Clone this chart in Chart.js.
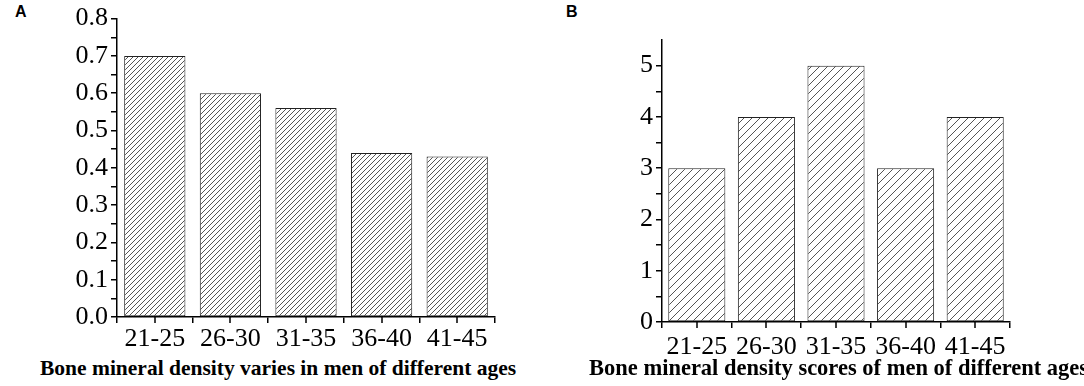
<!DOCTYPE html>
<html>
<head>
<meta charset="utf-8">
<script src="https://cdn.jsdelivr.net/npm/chart.js@4.4.1/dist/chart.umd.min.js"></script>
<style>
  body { margin: 0; background: #fff; width: 1084px; height: 386px; overflow: hidden; position: relative; }
  canvas { position: absolute; top: 0; }
  .panel { position: absolute; top: 3px; font: bold 16px "Liberation Sans", Arial, sans-serif; color: #000; }
  .xtitle { position: absolute; top: 356px; font: bold 21.5px "Liberation Serif", "Times New Roman", serif; color: #000; white-space: nowrap; }
</style>
</head>
<body>
<div class="panel" style="left:15px">A</div>
<div class="panel" style="left:566px">B</div>
<canvas id="chart-a" width="542" height="356" style="left:0"></canvas>
<canvas id="chart-b" width="542" height="356" style="left:542px"></canvas>
<div class="xtitle" style="left:40px">Bone mineral density varies in men of different ages</div>
<div class="xtitle" style="left:589px; top:355px; font-size:22.5px">Bone mineral density scores of men of different ages</div>
<script>
// Data
const ageGroups = ['21-25', '26-30', '31-35', '36-40', '41-45'];
const densityValues = [0.70, 0.60, 0.56, 0.44, 0.43];
const scoreValues = [3, 4, 5, 3, 4];

const serif = '"Liberation Serif", "Times New Roman", serif';

// Diagonal hatch pattern
function makeHatch(size) {
    const c = document.createElement('canvas');
    c.width = size;
    c.height = size;
    const g = c.getContext('2d');
    g.fillStyle = '#fff';
    g.fillRect(0, 0, size, size);
    g.strokeStyle = '#555';
    g.lineWidth = 1;
    g.beginPath();
    g.moveTo(-1, size + 1);
    g.lineTo(size + 1, -1);
    g.moveTo(-1, 1);
    g.lineTo(1, -1);
    g.moveTo(size - 1, size + 1);
    g.lineTo(size + 1, size - 1);
    g.stroke();
    return g.createPattern(c, 'repeat');
}

// Extra ticks at the category centres
const centerTicks = {
    id: 'centerTicks',
    afterDraw(chart) {
        const x = chart.scales.x;
        const ctx = chart.ctx;
        ctx.save();
        ctx.strokeStyle = '#000';
        ctx.lineWidth = 1.5;
        ctx.beginPath();
        x.ticks.forEach((t, i) => {
            const px = Math.round(x.getPixelForValue(i));
            ctx.moveTo(px, x.top);
            ctx.lineTo(px, x.top + 6);
        });
        ctx.stroke();
        ctx.restore();
    }
};

function makeChart(id, values, opts) {
    const ctx = document.getElementById(id).getContext('2d');
    return new Chart(ctx, {
        type: 'bar',
        data: {
            labels: ageGroups,
            datasets: [{
                data: values,
                backgroundColor: makeHatch(opts.hatch),
                borderColor: '#222',
                borderWidth: 1,
                borderSkipped: false,
                categoryPercentage: 1,
                barPercentage: opts.barPct
            }]
        },
        options: {
            responsive: false,
            animation: false,
            events: [],
            layout: { padding: opts.padding },
            plugins: { legend: { display: false }, tooltip: { enabled: false } },
            scales: {
                x: {
                    grid: { drawOnChartArea: false, offset: true, tickLength: 6, color: '#000', lineWidth: 1.5 },
                    border: { color: '#000', width: 1.5 },
                    ticks: { color: '#000', font: { family: serif, size: 26 }, padding: opts.xPad, maxRotation: 0, autoSkip: false },
                    afterFit: s => { s.height = opts.xHeight; }
                },
                y: {
                    min: 0,
                    max: opts.max,
                    grid: {
                        drawOnChartArea: false, tickLength: 6, lineWidth: 1.5,
                        color: c => (opts.hideTop && c.tick && c.tick.value >= opts.max - 1e-9) ? 'rgba(0,0,0,0)' : '#000'
                    },
                    border: { color: '#000', width: 1.5 },
                    ticks: {
                        stepSize: opts.step,
                        autoSkip: false,
                        color: '#000',
                        padding: 3,
                        font: { family: serif, size: 26 },
                        callback: opts.label
                    },
                    afterFit: s => { s.width = opts.yWidth; }
                }
            }
        },
        plugins: [centerTicks]
    });
}

// Panel A
makeChart('chart-a', densityValues, {
    hatch: 5,
    barPct: 0.81,
    max: 0.8,
    step: 0.05,
    padding: { left: 0, top: 13, right: 47, bottom: 0 },
    yWidth: 117,
    xHeight: 39,
    xPad: 1,
    label: v => (Math.round(v * 100) % 10 === 0 ? v.toFixed(1) : '')
});

// Panel B
makeChart('chart-b', scoreValues, {
    hatch: 8,
    barPct: 0.82,
    max: 5.5,
    step: 0.5,
    hideTop: true,
    padding: { left: 0, top: 40, right: 74, bottom: 0 },
    yWidth: 120,
    xHeight: 34,
    xPad: 4,
    label: v => (Number.isInteger(v) && v <= 5 ? String(v) : '')
});
</script>
</body>
</html>
